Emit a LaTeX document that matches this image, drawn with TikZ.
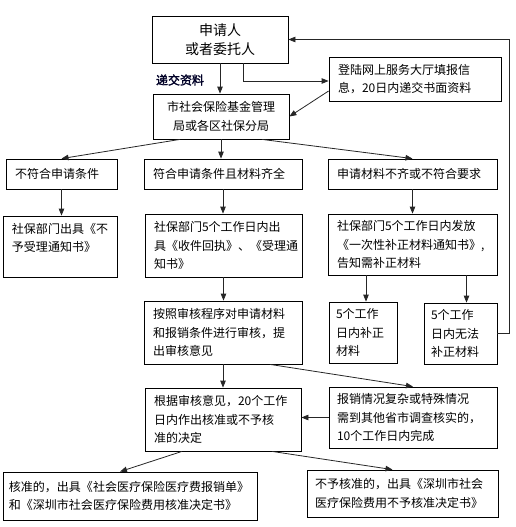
\documentclass[tikz,border=0pt]{standalone}
\usepackage{fontspec}
\setmainfont{Noto Sans CJK SC}
\newfontfamily\cjkbold{Noto Sans CJK SC}[FakeBold=2]
\usetikzlibrary{arrows.meta}
\begin{document}
\begin{tikzpicture}[x=1pt,y=-1pt,
  box/.style={draw=black, line width=0.8pt, inner xsep=9pt, inner ysep=2pt, align=left,
              font=\fontsize{12}{18.5}\selectfont},
  cbox/.style={box, align=center},
  arr/.style={draw=black!85, line width=0.8pt, -{Triangle[length=7pt,width=5.5pt]}},
  lbl/.style={font=\cjkbold\fontsize{12}{13}\selectfont, text=black!85!blue},
]
\useasboundingbox (0,0) rectangle (515,527);

\node[cbox, minimum width=136pt, minimum height=47pt, text width=118pt,
      font=\fontsize{14}{19}\selectfont] (A) at (220,39.5) {申请人\\或者委托人};
\node[box, minimum width=172pt, minimum height=44pt, text width=154pt] (B) at (415,79)
  {登陆网上服务大厅填报信\\息，20日内递交书面资料};
\node[cbox, minimum width=136pt, minimum height=45pt, text width=118pt] (C) at (221,116.5)
  {市社会保险基金管理\\局或各区社保分局};
\node[lbl] (L) at (180,80) {递交资料};

\node[box, minimum width=111pt, minimum height=30pt, text width=93pt] (D1) at (61.5,174) {不符合申请条件};
\node[box, minimum width=158pt, minimum height=30pt, text width=140pt] (D2) at (223,174) {符合申请条件且材料齐全};
\node[box, minimum width=169pt, minimum height=30pt, text width=151pt] (D3) at (412.5,174) {申请材料不齐或不符合要求};

\node[box, minimum width=114pt, minimum height=61pt, text width=96pt] (E1) at (60,246.5)
  {社保部门出具《不\\予受理通知书》\\\mbox{}};
\node[box, minimum width=157pt, minimum height=63pt, text width=139pt] (E2) at (223.5,245.5)
  {社保部门5个工作日内出\\具《收件回执》、《受理通\\知书》};
\node[box, minimum width=169pt, minimum height=61pt, text width=151pt] (E3) at (412.5,244.5)
  {社保部门5个工作日内发放\\《一次性补正材料通知书》,\\告知需补正材料};

\node[box, minimum width=158pt, minimum height=63pt, text width=140pt] (F1) at (223,332.5)
  {按照审核程序对申请材料\\和报销条件进行审核，提\\出审核意见};
\node[box, minimum width=68pt, minimum height=61pt, text width=54pt, inner xsep=7pt] (F2) at (363,332.5)
  {5个工作\\日内补正\\材料};
\node[box, minimum width=73pt, minimum height=61pt, text width=59pt, inner xsep=7pt] (F3) at (460.5,333.5)
  {5个工作\\日内无法\\补正材料};

\node[box, minimum width=156pt, minimum height=63pt, text width=138pt] (G1) at (223,419.5)
  {根据审核意见，20个工作\\日内作出核准或不予核\\准的决定};
\node[box, minimum width=168pt, minimum height=61pt, text width=152pt, inner xsep=8pt] (G2) at (413,417.5)
  {报销情况复杂或特殊情况\\需到其他省市调查核实的，\\10个工作日内完成};

\node[box, minimum width=254pt, minimum height=48pt, text width=242pt, inner xsep=6pt] (H1) at (130,496)
  {核准的，出具《社会医疗保险医疗费报销单》\\和《深圳市社会医疗保险费用核准决定书》};
\node[box, minimum width=191pt, minimum height=47pt, text width=175pt, inner xsep=8pt] (H2) at (402.5,493.5)
  {不予核准的，出具《深圳市社会\\医疗保险费用不予核准决定书》};

% connectors
\draw[arr] (A.south) -- (A.south |- C.north);
\draw[arr] ([xshift=23pt]A.south) |- ([yshift=-2pt]B.west);
\draw[arr] ([yshift=-12pt]B.west) -- (C.east);
\draw[arr] ([xshift=-41pt]C.south) -- (D1.north);
\draw[arr] (C.south) -- (C.south |- D2.north);
\draw[arr] ([xshift=41pt]C.south) -- (D3.north);
\draw[arr] (D1.south) -- (D1.south |- E1.north);
\draw[arr] (D2.south) -- (D2.south |- E2.north);
\draw[arr] (D3.south) -- (D3.south |- E3.north);
\draw[arr] (E2.south) -- (E2.south |- F1.north);
\draw[arr] ([xshift=3pt]F2.north |- E3.south) -- ([xshift=3pt]F2.north);
\draw[arr] ([xshift=6pt]F3.north |- E3.south) -- ([xshift=6pt]F3.north);
\draw[arr] (F3.east) -- ++(12,0) |- (A.east);
\draw[arr] (F1.south) -- (F1.south |- G1.north);
\draw[arr] ([xshift=47pt]F1.south) -- (G2.north);
\draw[arr] (G2.west) -- (G2.west -| G1.east);
\draw[arr] ([xshift=-41pt]G1.south) -- ([xshift=-10pt]H1.north);
\draw[arr] ([xshift=49pt]G1.south) -- ([xshift=-10pt]H2.north);
\end{tikzpicture}
\end{document}
